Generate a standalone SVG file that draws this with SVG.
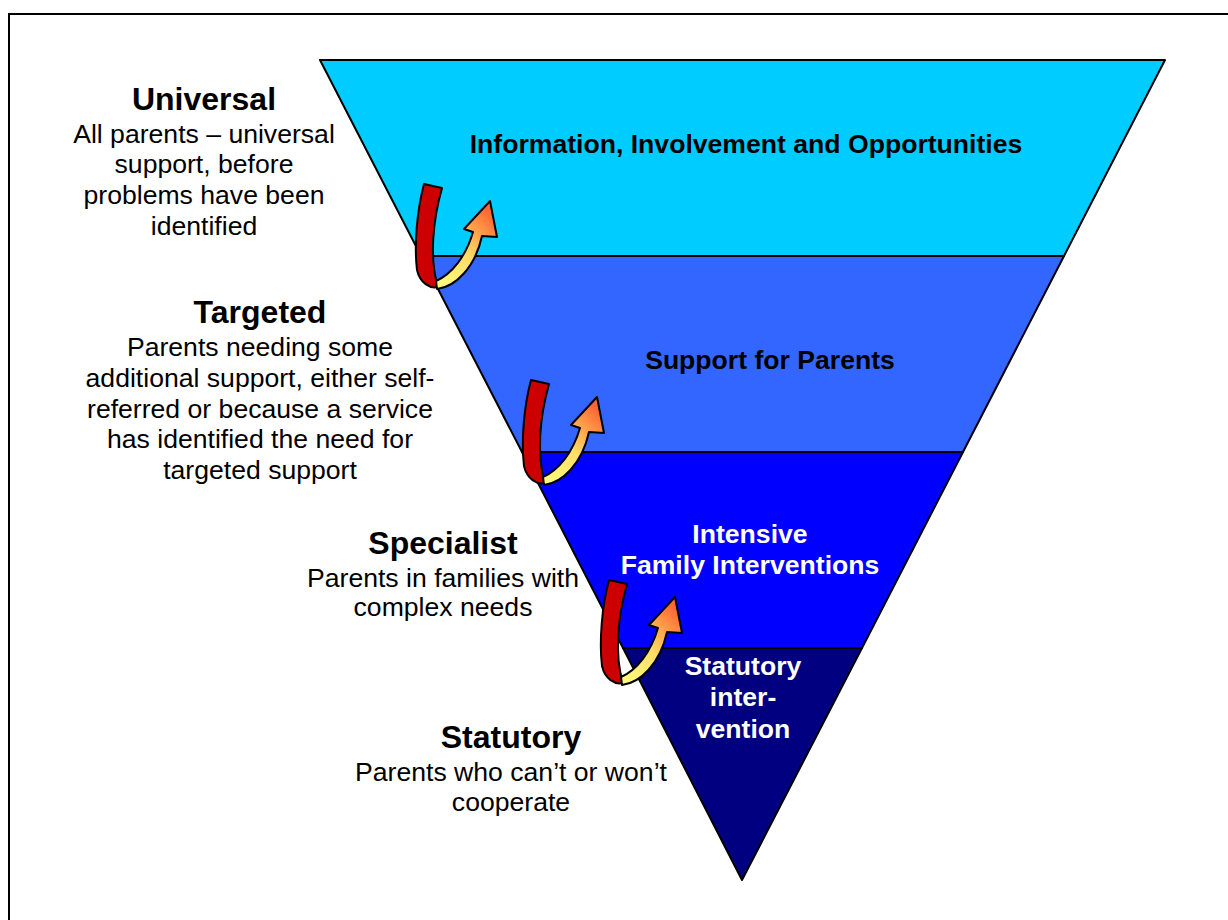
<svg xmlns="http://www.w3.org/2000/svg" width="1228" height="920" viewBox="0 0 1228 920">
<defs>
<style>
.lbl{font-family:"Liberation Sans",Arial,sans-serif;text-anchor:middle;fill:#000}
.h{font-size:32px;font-weight:bold}
.t{font-size:26.6px}
.b{font-family:"Liberation Sans",Arial,sans-serif;font-size:26.6px;font-weight:bold;text-anchor:middle}
.band{stroke:#000;stroke-width:2;stroke-linejoin:round}
.ar{stroke:#000;stroke-width:2;stroke-linejoin:round}
</style>
<linearGradient id="yg" x1="0" y1="1" x2="0.7" y2="0">
<stop offset="0" stop-color="#FFFF80"/>
<stop offset="0.5" stop-color="#FFDD66"/>
<stop offset="1" stop-color="#FF6633"/>
</linearGradient>
<g id="curl">
<path class="ar" fill="#CC0000" d="M424,184 L442,188 C433,220 429,258 438,287 C430,289 420,283 417,270 C414,245 417,210 424,184 Z"/>
<path class="ar" fill="url(#yg)" d="M437,289 C455,287 475,268 482,236 L497,237 L490,201 L464,229 L473,232 C466,256 452,274 436,281 Z"/>
</g>
</defs>
<rect x="9" y="14" width="1240" height="940" fill="#fff" stroke="#000" stroke-width="2"/>
<g id="pyramid">
<g id="band1"><polygon class="band" fill="#00CCFF" points="320,60 1165,60 1064,256 421,256"/>
<text class="b" x="746" y="153">Information, Involvement and Opportunities</text></g>
<g id="band2"><polygon class="band" fill="#3366FF" points="421,256 1064,256 963,452 522,452"/>
<text class="b" x="770" y="369">Support for Parents</text></g>
<g id="band3"><polygon class="band" fill="#0000FF" points="522,452 963,452 862,648 623,648"/>
<text class="b" x="750" y="543" fill="#fff">Intensive</text>
<text class="b" x="750" y="574" fill="#fff">Family Interventions</text></g>
<g id="band4"><polygon class="band" fill="#000080" points="623,648 862,648 742,880"/>
<text class="b" x="743" y="675" fill="#fff">Statutory</text>
<text class="b" x="743" y="706" fill="#fff">inter-</text>
<text class="b" x="743" y="738" fill="#fff">vention</text></g>
</g>
<g id="connectors">
<use href="#curl"/>
<use href="#curl" transform="translate(107,196)"/>
<use href="#curl" transform="translate(185,396)"/>
</g>
<g id="universal" class="lbl">
<text class="h" x="204" y="110">Universal</text>
<text class="t" x="204" y="143">All parents – universal</text>
<text class="t" x="204" y="173">support, before</text>
<text class="t" x="204" y="204">problems have been</text>
<text class="t" x="204" y="235">identified</text>
</g>
<g id="targeted" class="lbl">
<text class="h" x="260" y="323">Targeted</text>
<text class="t" x="260" y="356">Parents needing some</text>
<text class="t" x="260" y="387">additional support, either self-</text>
<text class="t" x="260" y="418">referred or because a service</text>
<text class="t" x="260" y="448">has identified the need for</text>
<text class="t" x="260" y="479">targeted support</text>
</g>
<g id="specialist" class="lbl">
<text class="h" x="443" y="554">Specialist</text>
<text class="t" x="443" y="587">Parents in families with</text>
<text class="t" x="443" y="616">complex needs</text>
</g>
<g id="statutory" class="lbl">
<text class="h" x="511" y="748">Statutory</text>
<text class="t" x="511" y="781">Parents who can’t or won’t</text>
<text class="t" x="511" y="811">cooperate</text>
</g>
</svg>
